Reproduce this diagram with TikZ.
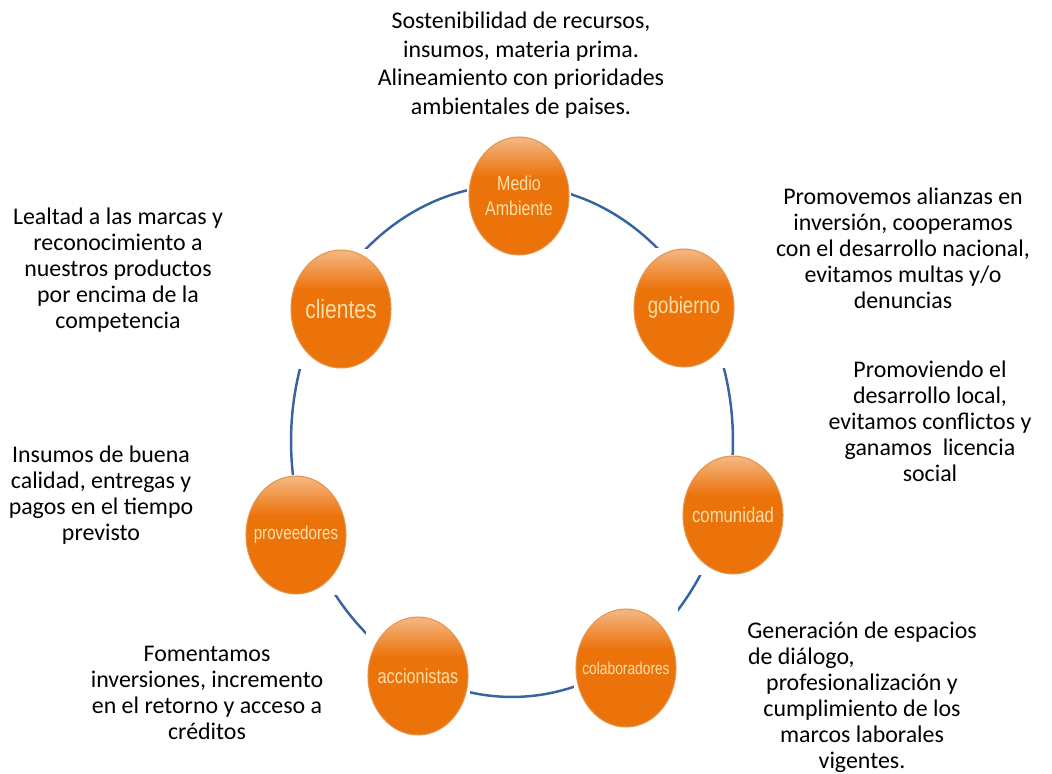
\documentclass[tikz,border=0pt]{standalone}
\usepackage{fontspec}
\setmainfont{Carlito}
\newfontfamily\bolafont[FakeStretch=0.8]{Liberation Sans}
\usetikzlibrary{shapes.geometric}
\definecolor{Naranja}{RGB}{236,114,10}
\definecolor{NaranjaClara}{RGB}{244,180,125}
\definecolor{NaranjaBorde}{RGB}{226,150,80}
\definecolor{Crema}{RGB}{248,224,170}
\definecolor{AzulAro}{RGB}{55,100,160}
\pgfdeclareverticalshading{brillo}{100bp}{color(0bp)=(Naranja); color(58bp)=(Naranja); color(74bp)=(NaranjaClara); color(100bp)=(NaranjaClara)}

\begin{document}
\begin{tikzpicture}[x=0.02cm,y=-0.02cm,
aro/.style={draw=AzulAro,line width=1.4pt},
hueco/.style={fill=white,minimum width=2.1cm,minimum height=2.42cm,inner sep=0pt},
bola/.style={ellipse,shade,shading=brillo,draw=NaranjaBorde,line width=0.6pt,minimum width=2cm,minimum height=2.36cm,inner sep=0pt},
rotulo/.style={text=Crema,align=center,inner sep=0pt},
desc/.style={align=center,font=\fontsize{13.6}{14.8}\selectfont}
]
\useasboundingbox (0,0) rectangle (1052,774);
\coordinate (centro) at (512,441);
\draw[aro] (centro) ellipse [x radius=4.42cm,y radius=5.12cm];
\foreach \nombre/\pos/\fs/\texto in {medio/{519,196}/11.4/{Medio\\Ambiente},gobierno/{684,308}/13.2/gobierno,
  comunidad/{733,515}/11.9/comunidad,colaboradores/{626,668}/9.8/colaboradores,accionistas/{418,676}/11.6/accionistas,
  proveedores/{296,535}/10.8/proveedores,clientes/{341,309}/15/clientes}{
  \node[hueco] at (\pos) {};
  \node[bola] (\nombre) at (\pos) {};
  \node[rotulo,font=\bolafont\fontsize{\fs}{14.2}\selectfont] at (\nombre) {\texto};
}
\node[desc,font=\fontsize{13.6}{16.3}\selectfont] (tmedio) at (521,65) {Sostenibilidad de recursos,\\insumos, materia prima.\\Alineamiento con prioridades\\ambientales de paises.};
\node[desc] (tclientes) at (118,270) {Lealtad a las marcas y\\reconocimiento a\\nuestros productos\\por encima de la\\competencia};
\node[desc] (tgobierno) at (903,248) {Promovemos alianzas en\\inversión, cooperamos\\con el desarrollo nacional,\\evitamos multas y/o\\denuncias};
\node[desc] (tcomunidad) at (930,421) {Promoviendo el\\desarrollo local,\\evitamos conflictos y\\ganamos\ \ licencia\\social};
\node[desc] (tproveedores) at (101,495) {Insumos de buena\\calidad, entregas y\\pagos en el tiempo\\previsto};
\node[desc] (taccionistas) at (207,693) {Fomentamos\\inversiones, incremento\\en el retorno y acceso a\\créditos};
\node[desc] (tcolaboradores) at (862,697) {Generación de espacios\\\makebox[4.56cm][l]{de diálogo,}\\profesionalización y\\cumplimiento de los\\marcos laborales\\vigentes.};
\end{tikzpicture}
\end{document}
